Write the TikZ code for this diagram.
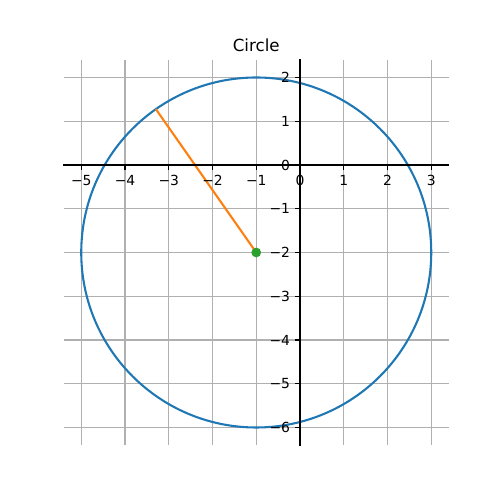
\documentclass[tikz,border=0pt]{standalone}
\usepackage{fontspec}
\setmainfont{DejaVu Sans}
\begin{document}
\begin{tikzpicture}[x=31.5pt,y=31.5pt,
  gridline/.style={draw={rgb,255:red,176;green,176;blue,176}, line width=0.8pt},
  spine/.style={draw=black, line width=0.8pt, line cap=rect},
  tickmark/.style={draw=black, line width=0.8pt},
  xlab/.style={anchor=north, inner sep=0pt, font=\fontsize{10}{12}\selectfont},
  ylab/.style={anchor=east, inner sep=0pt, font=\fontsize{10}{12}\selectfont},
  circ/.style={draw={rgb,255:red,31;green,119;blue,180}, line width=1.5pt},
  radline/.style={draw={rgb,255:red,255;green,127;blue,14}, line width=1.5pt},
  centerdot/.style={fill={rgb,255:red,44;green,160;blue,44}}]
\useasboundingbox (-300/43.75,3.7714) rectangle (200/43.75,-7.6571);
% grid
\foreach \v in {-5,...,3} \draw[gridline] (\v,-6.4) -- (\v,2.4);
\foreach \v in {-6,...,2} \draw[gridline] (-5.4,\v) -- (3.4,\v);
% circle and radius
\coordinate (c) at (-1,-2);
\coordinate (p) at ({-1+4*cos(125)},{-2+4*sin(125)});
\draw[circ] (c) circle[radius=4];
\draw[radline] (c) -- (p);
\fill[centerdot] (c) circle[radius=3.5pt];
% spines
\draw[spine] (-5.4,0) -- (3.4,0);
\draw[spine] (0,-6.4) -- (0,2.4);
% ticks and labels
\foreach \v/\t in {-5/−5,-4/−4,-3/−3,-2/−2,-1/−1,0/0,1/1,2/2,3/3} {
  \draw[tickmark] (\v,0) -- ++(0,-3.5pt);
  \node[xlab] (xl\v) at (\v,-7pt) {\t};
}
\foreach \v/\t in {-6/−6,-5/−5,-4/−4,-3/−3,-2/−2,-1/−1,0/0,1/1,2/2} {
  \draw[tickmark] (0,\v) -- ++(-3.5pt,0);
  \node[ylab] (yl\v) at (-7pt,\v) {\t};
}
\node[anchor=base, inner sep=0pt, font=\fontsize{12}{14}\selectfont] (title) at (-1,2.59) {Circle};
\end{tikzpicture}
\end{document}
